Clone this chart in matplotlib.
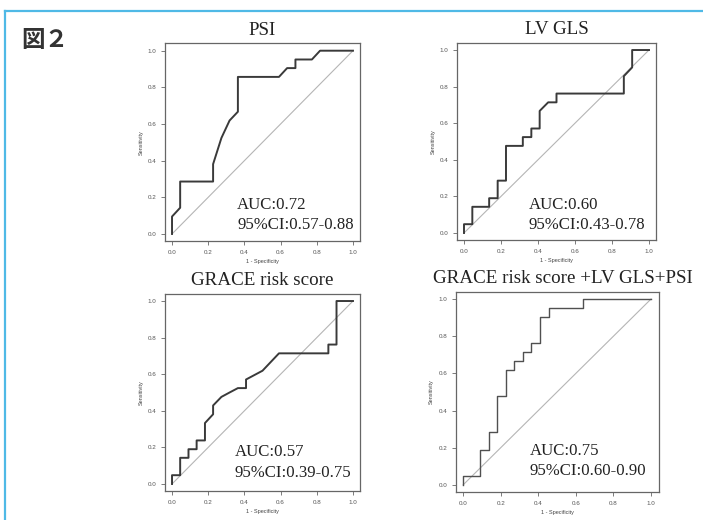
import matplotlib
matplotlib.use("Agg")
from matplotlib import pyplot as plt
from matplotlib.lines import Line2D

plt.rcParams['font.family'] = ['Liberation Sans', 'DejaVu Sans']

# ROC data (x = 1 - specificity, y = sensitivity)
titles = ["PSI", "LV GLS", "GRACE risk score", "GRACE risk score +LV GLS+PSI"]
auc_labels = ["AUC:0.72", "AUC:0.60", "AUC:0.57", "AUC:0.75"]
ci_labels = ["95%CI:0.57-0.88", "95%CI:0.43-0.78", "95%CI:0.39-0.75", "95%CI:0.60-0.90"]

fpr_psi = [0, 0, 0.045, 0.045, 0.227, 0.227, 0.273, 0.318, 0.364, 0.364,
           0.591, 0.636, 0.682, 0.682, 0.773, 0.818, 1.0]
tpr_psi = [0, 0.095, 0.143, 0.286, 0.286, 0.381, 0.524, 0.619, 0.667, 0.857,
           0.857, 0.905, 0.905, 0.952, 0.952, 1.0, 1.0]

fpr_gls = [0, 0, 0.045, 0.045, 0.136, 0.136, 0.182, 0.182, 0.227, 0.227,
           0.318, 0.318, 0.364, 0.364, 0.409, 0.409, 0.455, 0.5, 0.5, 0.864,
           0.864, 0.909, 0.909, 1.0]
tpr_gls = [0, 0.048, 0.048, 0.143, 0.143, 0.190, 0.190, 0.286, 0.286, 0.476,
           0.476, 0.524, 0.524, 0.571, 0.571, 0.667, 0.714, 0.714, 0.762, 0.762,
           0.857, 0.905, 1.0, 1.0]

fpr_grace = [0, 0, 0.045, 0.045, 0.091, 0.091, 0.136, 0.136, 0.182, 0.182,
             0.227, 0.227, 0.273, 0.318, 0.364, 0.409, 0.409, 0.5, 0.591, 0.864,
             0.864, 0.909, 0.909, 1.0]
tpr_grace = [0, 0.048, 0.048, 0.143, 0.143, 0.190, 0.190, 0.238, 0.238, 0.333,
             0.381, 0.429, 0.476, 0.500, 0.524, 0.524, 0.571, 0.619, 0.714, 0.714,
             0.762, 0.762, 1.0, 1.0]

fpr_comb = [0, 0, 0.091, 0.091, 0.136, 0.136, 0.182, 0.182, 0.227, 0.227,
            0.273, 0.273, 0.318, 0.318, 0.364, 0.364, 0.409, 0.409, 0.455, 0.455,
            0.636, 0.636, 1.0]
tpr_comb = [0, 0.048, 0.048, 0.190, 0.190, 0.286, 0.286, 0.476, 0.476, 0.619,
            0.619, 0.667, 0.667, 0.714, 0.714, 0.762, 0.762, 0.905, 0.905, 0.952,
            0.952, 1.0, 1.0]

fprs = [fpr_psi, fpr_gls, fpr_grace, fpr_comb]
tprs = [tpr_psi, tpr_gls, tpr_grace, tpr_comb]
ticks = [0.0, 0.2, 0.4, 0.6, 0.8, 1.0]

fig = plt.figure(figsize=(7.03, 5.2), dpi=100)

# axes rectangles in figure fractions
rects = [
    [0.2344, 0.5360, 0.2780, 0.3806],
    [0.6495, 0.5379, 0.2842, 0.3800],
    [0.2344, 0.0552, 0.2780, 0.3800],
    [0.6480, 0.0531, 0.2888, 0.3862],
]
text_pos = [(0.36, 0.136, 0.027), (0.348, 0.131, 0.022),
            (0.348, 0.153, 0.04), (0.356, 0.161, 0.054)]
title_x = [0.5, 0.5, 0.5, 0.53]
line_w = [1.4, 1.4, 1.4, 1.0]
line_c = ['#3a3a3a', '#3a3a3a', '#3a3a3a', '#505050']

for i in range(4):
    ax = fig.add_axes(rects[i])
    ax.plot([0, 1], [0, 1], color='#b5b5b5', lw=0.8)
    ax.plot(fprs[i], tprs[i], color=line_c[i], lw=line_w[i])
    ax.set_xlim(-0.04, 1.04)
    ax.set_ylim(-0.04, 1.04)
    ax.set_xticks(ticks)
    ax.set_yticks(ticks)
    ax.set_xticklabels([f"{t:.1f}" for t in ticks])
    ax.set_yticklabels([f"{t:.1f}" for t in ticks])
    ax.tick_params(length=3, width=0.6, color='#666666', labelsize=4.5,
                   labelcolor='#555555')
    ax.tick_params(axis='x', pad=3)
    ax.tick_params(axis='y', pad=3)
    for s in ax.spines.values():
        s.set_color('#666666')
        s.set_linewidth(0.9)
    ax.set_xlabel("1 - Specificity", fontsize=4, color='#444444', labelpad=3)
    ax.set_ylabel("Sensitivity", fontsize=4, color='#444444', labelpad=3)
    ax.set_title(titles[i], fontsize=13.7, family='Liberation Serif',
                 color='#222222', pad=6, x=title_x[i])
    tx, ty1, ty2 = text_pos[i]
    ax.text(tx, ty1, auc_labels[i], fontsize=12.1, family='Liberation Serif',
            color='#222222', va='baseline')
    ax.text(tx, ty2, ci_labels[i], fontsize=12.1, family='Liberation Serif',
            color='#222222', va='baseline')

# light blue frame on the left and top
fig.add_artist(Line2D([5 / 703, 5 / 703], [0, 1 - 11 / 520],
                      color='#4fb9e6', lw=1.6))
fig.add_artist(Line2D([5 / 703, 1], [1 - 11 / 520, 1 - 11 / 520],
                      color='#4fb9e6', lw=1.6))

fig.text(21 / 703, 1 - 47 / 520, "図２", fontsize=17,
         family=['Noto Sans CJK JP', 'DejaVu Sans'], color='#333333',
         va='baseline', fontweight='bold')

fig.savefig("out.png", dpi=100)
